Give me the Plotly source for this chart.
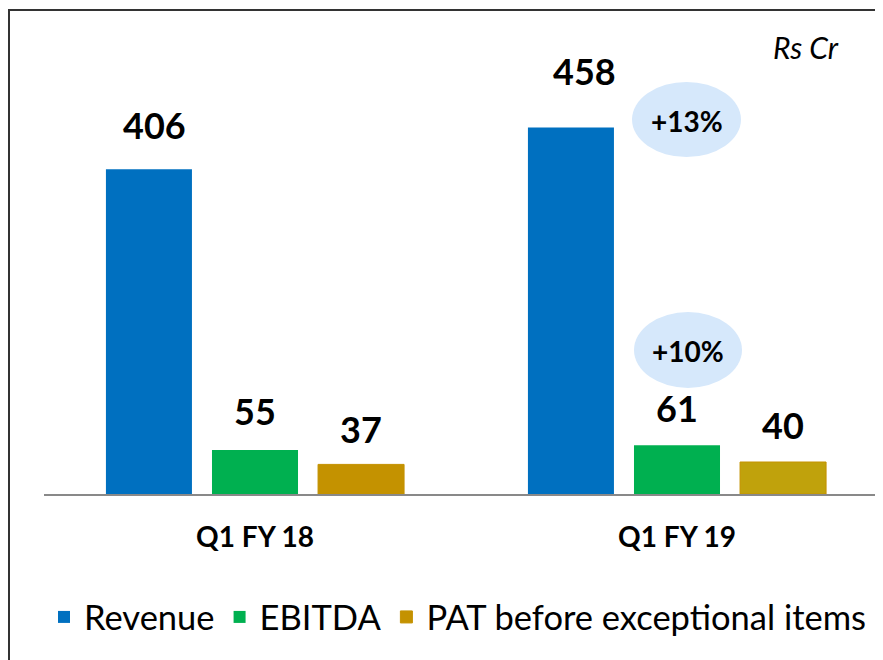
import plotly.graph_objects as go

# ---- data ----
categories = ["Q1 FY 18", "Q1 FY 19"]
revenue = [406, 458]
ebitda = [55, 61]
pat = [37, 40]
series_names = ["Revenue", "EBITDA", "PAT before exceptional items"]
growth_labels = ["+13%", "+10%"]
unit_label = "Rs Cr"

# ---- style ----
PAGE_OFF = 8                      # browser body margin
W, H = 883 - PAGE_OFF, 660 - PAGE_OFF
ML, MR, MT, MB = 36, 0, 2, 166
FONT = "Lato"
colors = ["#0070C0", "#00B050", ["#C49200", "#C0A20C"]]
bargap = 0.246
bargroupgap = 0.189
plot_w = W - ML - MR
plot_h = H - MT - MB
px_per_unit = 0.8
ymax = plot_h / px_per_unit
cat_px = 422
xmax = -0.5 + plot_w / cat_px

# label offsets (pixels) per series per category
label_yshift = [[20, 33], [15, 13], [11, 13]]
label_xshift = [[6, 14], [0, 0], [0, 0]]


def px_x(p):  # page pixel -> paper
    return (p - PAGE_OFF - ML) / plot_w


def px_y(p):
    return (H - MB - (p - PAGE_OFF)) / plot_h


values = [revenue, ebitda, pat]
fig = go.Figure()
for s, (name, vals) in enumerate(zip(series_names, values)):
    c = colors[s]
    is_pat = s == 2
    fig.add_trace(go.Bar(
        name=name, x=list(range(len(categories))), y=vals,
        marker=dict(color=c, line=dict(color="#C49200" if is_pat else c,
                                       width=1 if is_pat else 0)),
    ))

slot = (1 - bargap) / 3
for s, vals in enumerate(values):
    for i, v in enumerate(vals):
        fig.add_annotation(
            x=i + (s - 1) * slot, y=v, xref="x", yref="y",
            text=f"<b>{v}</b>", showarrow=False, yanchor="bottom",
            yshift=label_yshift[s][i], xshift=label_xshift[s][i],
            font=dict(family=FONT, size=36, color="black"),
        )

# growth bubbles (page pixel boxes)
bubbles = [(632, 82, 741, 157), (634, 312, 742, 388)]
for (x0, y0, x1, y1), txt in zip(bubbles, growth_labels):
    fig.add_shape(type="circle", xref="paper", yref="paper",
                  x0=px_x(x0), x1=px_x(x1), y0=px_y(y1), y1=px_y(y0),
                  fillcolor="#D6E8FB", line=dict(width=0), layer="above")
    fig.add_annotation(xref="paper", yref="paper",
                       x=px_x((x0 + x1) / 2), y=px_y((y0 + y1) / 2 + 1),
                       text=f"<b>{txt}</b>", showarrow=False,
                       xanchor="center", yanchor="middle",
                       font=dict(family=FONT, size=28, color="black"))

fig.add_annotation(xref="paper", yref="paper", x=px_x(841), y=px_y(47),
                   text=f"<i>{unit_label}</i>", showarrow=False,
                   xanchor="right", yanchor="middle",
                   font=dict(family=FONT, size=30, color="black"))

# outer border
fig.add_shape(type="rect", xref="paper", yref="paper",
              x0=px_x(9), x1=px_x(900), y0=px_y(700), y1=px_y(10),
              line=dict(color="#333333", width=2), fillcolor="rgba(0,0,0,0)",
              layer="above")

fig.update_layout(
    width=W, height=H,
    margin=dict(l=ML, r=MR, t=MT, b=MB),
    paper_bgcolor="white", plot_bgcolor="white",
    barmode="group", bargap=bargap, bargroupgap=bargroupgap,
    font=dict(family=FONT, color="black"),
    showlegend=True,
    legend=dict(orientation="h", x=px_x(44), y=px_y(588),
                xanchor="left", yanchor="top",
                font=dict(family=FONT, size=34.5, color="black"),
                bgcolor="rgba(0,0,0,0)"),
    xaxis=dict(
        range=[-0.5, xmax], tickmode="array",
        tickvals=list(range(len(categories))),
        ticktext=[f"<b>{c}</b>" for c in categories],
        tickfont=dict(family=FONT, size=28, color="black"),
        showline=True, linecolor="#898989", linewidth=2,
        ticks="outside", ticklen=17, tickcolor="rgba(0,0,0,0)",
        showgrid=False, zeroline=False, fixedrange=True,
    ),
    yaxis=dict(range=[0, ymax], visible=False, showgrid=False,
               zeroline=False, fixedrange=True),
)

fig.write_html("out.html")
